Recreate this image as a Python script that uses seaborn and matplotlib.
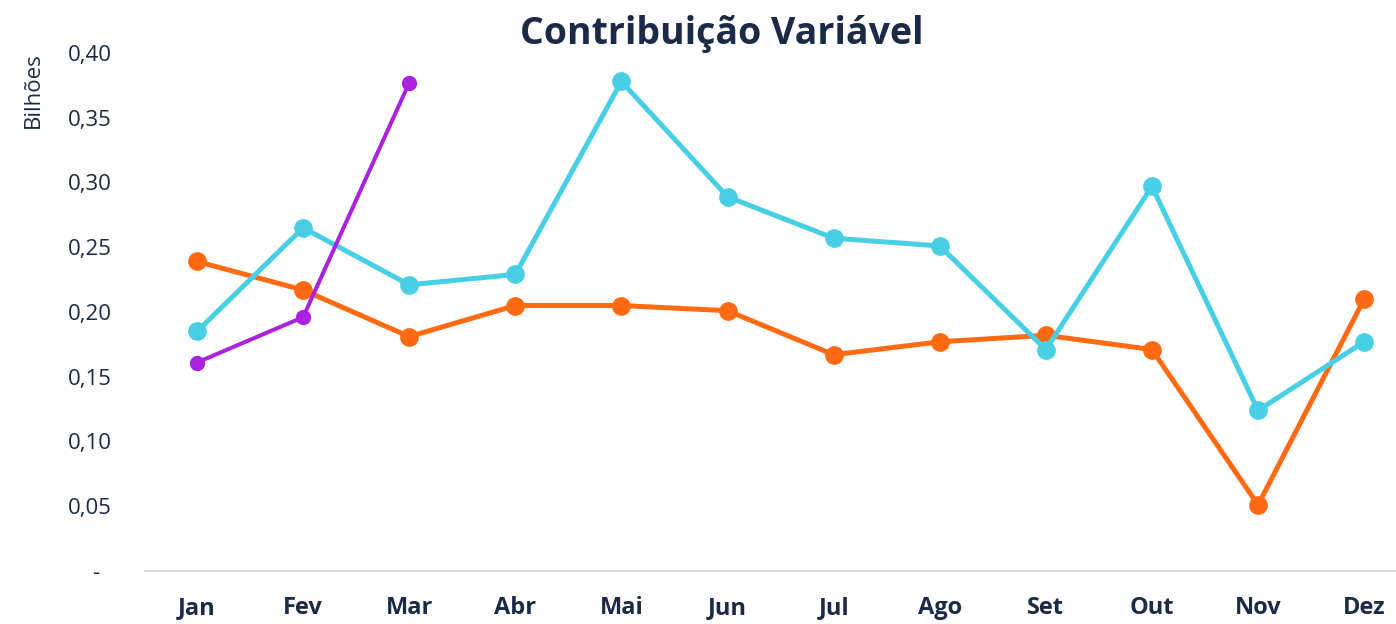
import numpy as np
import pandas as pd
import matplotlib
matplotlib.use("Agg")
import matplotlib.pyplot as plt
from matplotlib.ticker import FuncFormatter, MultipleLocator
import seaborn as sns

months = ["Jan", "Fev", "Mar", "Abr", "Mai", "Jun", "Jul", "Ago", "Set", "Out", "Nov", "Dez"]
serie_laranja = [0.239, 0.217, 0.181, 0.205, 0.205, 0.201, 0.167, 0.177, 0.182, 0.171, 0.051, 0.210]
serie_ciano = [0.185, 0.265, 0.221, 0.229, 0.378, 0.289, 0.257, 0.251, 0.171, 0.297, 0.124, 0.177]
serie_roxa = [0.161, 0.196, 0.377]

title = "Contribuição Variável"
ylabel = "Bilhões"

navy = "#1b2a47"
sns.set_theme(style="white")
plt.rcParams["font.family"] = ["Open Sans", "DejaVu Sans"]

fig = plt.figure(figsize=(13.96, 6.24), dpi=100)
ax = fig.add_axes([145 / 1396, 1 - 571 / 624, 1 - 145 / 1396, (571 - 53) / 624])

series = [
    (serie_laranja, "#ff6a13", 3.6, 13.5),
    (serie_ciano, "#48cfe6", 3.6, 13.5),
    (serie_roxa, "#a822e0", 2.9, 11),
]
for values, color, lw, ms in series:
    df = pd.DataFrame({"x": np.arange(len(values)), "y": values})
    sns.lineplot(data=df, x="x", y="y", ax=ax, color=color, linewidth=lw,
                 marker="o", markersize=ms, markeredgewidth=0, sort=False)

ax.set_xlim(-0.49, 11.3)
ax.set_ylim(0, 0.40)
ax.set_xticks(np.arange(len(months)))
ax.set_xticklabels(months, fontsize=17, fontweight="bold", color=navy)
ax.yaxis.set_major_locator(MultipleLocator(0.05))
ax.yaxis.set_major_formatter(FuncFormatter(
    lambda v, p: "-  " if abs(v) < 1e-9 else f"{v:.2f}".replace(".", ",")))
ax.tick_params(axis="y", length=0, pad=24, labelsize=16, labelcolor=navy)
ax.tick_params(axis="x", length=0, pad=18)
ax.set_xlabel("")
ax.set_ylabel(ylabel, fontsize=16, color=navy)
ax.yaxis.set_label_coords(-0.081, 0.929)

for side in ["top", "right", "left"]:
    ax.spines[side].set_visible(False)
ax.spines["bottom"].set_color("#d9d9d9")
ax.spines["bottom"].set_linewidth(1.5)
ax.grid(False)

fig.text(722 / 1396, 1 - 34 / 624, title, ha="center", va="center",
         fontsize=27, fontweight="bold", color=navy)

fig.savefig("out.png", dpi=100)
